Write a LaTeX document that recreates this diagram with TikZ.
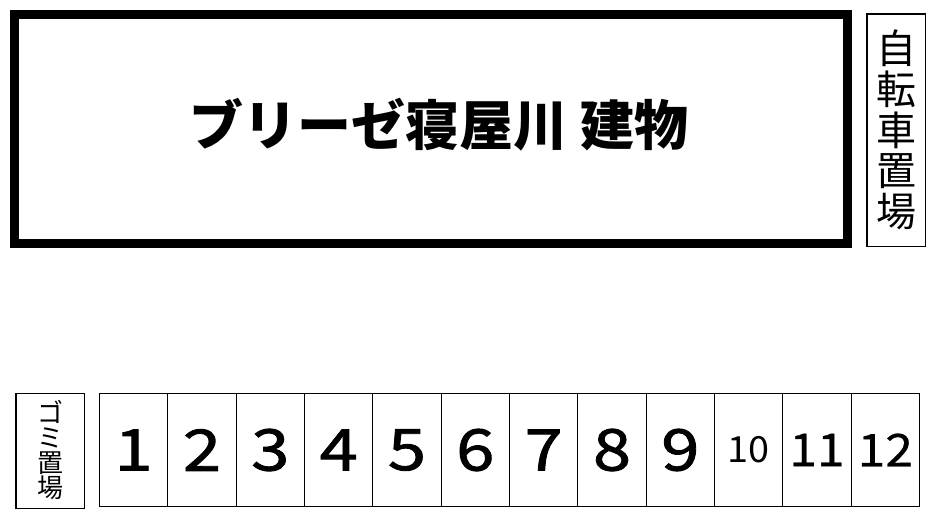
\documentclass[tikz,border=0pt]{standalone}
\usepackage{fontspec}
\newfontfamily\jp{Noto Sans CJK JP}
\newfontfamily\jpnum[FakeStretch=1.2,FakeBold=1.5]{Noto Sans CJK JP}
\newfontfamily\jpnummid[FakeStretch=1.1,FakeBold=0.6]{Noto Sans CJK JP}
\newfontfamily\jpnumthin[FakeStretch=1.05]{Noto Sans CJK JP}
\begin{document}
\begin{tikzpicture}[x=0.75pt,y=-0.75pt,
  thinbox/.style={draw=black,line width=0.9pt,inner sep=0pt,outer sep=0pt},
  cell/.style={thinbox,minimum width=51.25pt,minimum height=84.75pt,anchor=center},
  bignum/.style={font=\jpnum\fontsize{43}{43}\selectfont},
  midnum/.style={font=\jpnummid\fontsize{34}{34}\selectfont},
  smallnum/.style={font=\jpnumthin\fontsize{27}{27}\selectfont}
]
\useasboundingbox (0,0) rectangle (934,522);
\fill[white] (0,0) rectangle (934,522);
% building
\node[draw=black,line width=6.75pt,minimum width=624.4pt,minimum height=171.4pt,inner sep=0pt] (bldg) at (431.25,128.75) {};
\node[font=\jp\bfseries\fontsize{40.5}{40.5}\selectfont,inner sep=0pt] (title) at (439,125) {ブリーゼ寝屋川 建物};
% bicycle parking
\node[thinbox,minimum width=43.9pt,minimum height=174.4pt] (bike) at (896.25,130.25) {};
\node[font=\jp\fontsize{30}{30.5}\selectfont,align=center,inner sep=0pt] (biketext) at (896,130) {自\\転\\車\\置\\場};
% garbage
\node[thinbox,minimum width=51.4pt,minimum height=86.25pt] (gomi) at (50.25,451) {};
\node[font=\jp\fontsize{19.5}{18.75}\selectfont,align=center,inner sep=0pt] (gomitext) at (50,450) {ゴ\\ミ\\置\\場};
% numbered cells
\foreach \i in {1,...,9}{
  \node[cell,bignum] (c\i) at ({99.5+68.333*(\i-0.5)},450) {\i};
}
\node[cell,smallnum] (c10) at ({99.5+68.333*9.5},450) {\raisebox{-2pt}{10}};
\node[cell,midnum] (c11) at ({99.5+68.333*10.5},450) {\raisebox{-2pt}{11}};
\node[cell,midnum] (c12) at ({99.5+68.333*11.5},450) {\raisebox{-2pt}{12}};
\end{tikzpicture}
\end{document}
